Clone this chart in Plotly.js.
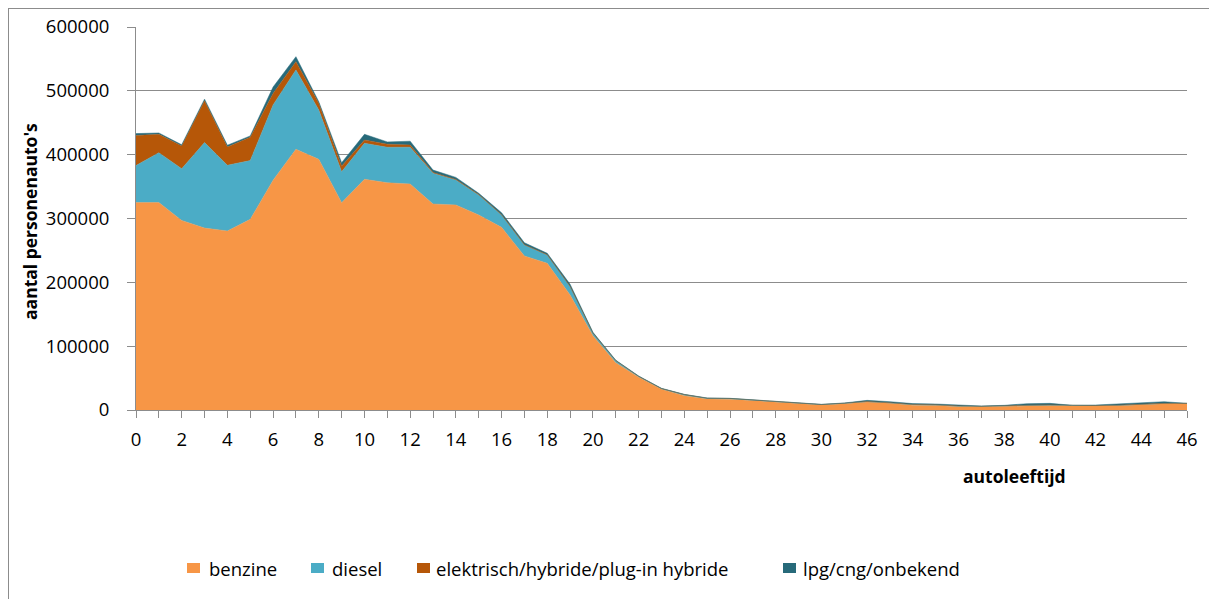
<!DOCTYPE html>
<html>
<head>
<meta charset="utf-8">
<script src="https://cdn.plot.ly/plotly-3.0.1.min.js"></script>
<style>
html,body{margin:0;padding:0;background:#fff;overflow:hidden;}
#frame{position:absolute;left:8px;top:8px;width:1400px;height:800px;border:1px solid #8c8c8c;box-sizing:border-box;}
#chart{position:absolute;left:0;top:0;width:1209px;height:599px;}
</style>
</head>
<body>
<div id="frame"></div>
<div id="chart"></div>
<script>
// autoleeftijd (age of car, years)
const ages = [0,1,2,3,4,5,6,7,8,9,10,11,12,13,14,15,16,17,18,19,20,21,22,23,24,25,26,27,28,29,30,31,32,33,34,35,36,37,38,39,40,41,42,43,44,45,46];

const benzine = [325000,325000,297000,285000,280400,298700,360000,408400,392700,324800,361400,356000,354000,322700,321200,305500,286200,241300,229800,180200,116400,74100,51200,32400,22500,17200,17000,14600,12000,9900,7800,9900,12500,10400,7500,7000,5200,5200,5200,6300,6800,6300,6300,6800,8900,9900,10400];

const diesel = [58000,78000,81000,134000,103000,92000,118000,124300,77300,48600,56400,55600,57600,48000,39000,31300,19300,17200,13000,13000,3800,3100,1400,1000,1500,1200,1000,1000,1200,800,700,600,700,800,1100,1000,1000,500,800,1000,1000,500,600,600,400,400,0];

const elektrisch = [47000,29000,35600,65600,28700,36600,18000,13000,10500,8600,5200,4700,3500,1500,1000,700,500,500,400,400,200,100,100,100,100,100,100,100,100,100,100,100,100,100,100,100,100,100,100,100,100,100,100,100,100,100,0];

const lpg = [3000,2000,1900,2400,2700,2100,10000,7800,2500,5500,8900,3700,6000,3700,3200,2000,3000,3000,2300,3300,1300,700,600,500,400,300,200,400,300,200,300,400,1800,1700,1300,1300,1000,500,1200,2500,2500,400,800,1900,2100,2600,0];

const seriesNames = ["benzine","diesel","elektrisch/hybride/plug-in hybride","lpg/cng/onbekend"];
const seriesValues = [benzine, diesel, elektrisch, lpg];
const seriesColors = ["#F79646","#4BACC6","#B65708","#276A7A"];

const yTickVals = [0,100000,200000,300000,400000,500000,600000];
const yTickText = ["0","100000","200000","300000","400000","500000","600000"];

const FONT = "'Open Sans', 'Noto Sans', sans-serif";

const traces = seriesNames.map((name, i) => ({
  type: "scatter",
  mode: "lines",
  x: ages,
  y: seriesValues[i],
  name: name,
  stackgroup: "one",
  line: {width: 0.5, color: seriesColors[i]},
  fillcolor: seriesColors[i],
  hoverinfo: "x+y+name"
}));

// plot area in pixels
const L = 136, R = 1187, T = 27, B = 410;
const px = v => (v - L) / (R - L);
const py = v => (B - v) / (B - T);

const legendSquares = [187, 311, 417, 783];
const legendTextX = [207, 330, 434, 801];
const legendY = 568;

const shapes = [];
const annotations = [];
seriesNames.forEach((name, i) => {
  shapes.push({
    type: "rect", xref: "paper", yref: "paper",
    x0: px(legendSquares[i]), x1: px(legendSquares[i] + 13),
    y0: py(legendY + 5), y1: py(legendY - 5),
    fillcolor: seriesColors[i], line: {width: 0}
  });
  annotations.push({
    xref: "paper", yref: "paper",
    x: px(legendTextX[i]), y: py(legendY),
    xanchor: "left", yanchor: "middle",
    text: name, showarrow: false,
    font: {family: FONT, size: 18.5, color: "#000"}
  });
});

annotations.push({
  xref: "paper", yref: "paper",
  x: px(1014), y: py(476),
  xanchor: "center", yanchor: "middle",
  text: "<b>autoleeftijd</b>", showarrow: false,
  font: {family: FONT, size: 17.5, color: "#000"}
});
annotations.push({
  xref: "paper", yref: "paper",
  x: px(30), y: py(222),
  xanchor: "center", yanchor: "middle",
  textangle: -90,
  text: "<b>aantal personenauto's</b>", showarrow: false,
  font: {family: FONT, size: 17.5, color: "#000"}
});

const layout = {
  width: 1209, height: 599,
  margin: {l: L, r: 1209 - R, t: T, b: 599 - B, pad: 0},
  paper_bgcolor: "rgba(0,0,0,0)",
  plot_bgcolor: "rgba(0,0,0,0)",
  showlegend: false,
  font: {family: FONT, size: 18.5, color: "#000"},
  xaxis: {
    range: [0, 46],
    tickmode: "linear", tick0: 0, dtick: 2,
    ticks: "outside", ticklen: 7, tickcolor: "#8c8c8c", tickwidth: 1,
    minor: {tickmode: "linear", tick0: 0, dtick: 1, ticks: "outside", ticklen: 7, tickcolor: "#8c8c8c", tickwidth: 1, showgrid: false},
    showgrid: false, zeroline: false,
    showline: true, linecolor: "#8c8c8c", linewidth: 1,
    ticklabelstandoff: 6,
    tickfont: {family: FONT, size: 18.5, color: "#000"},
    fixedrange: true
  },
  yaxis: {
    range: [0, 600000],
    tickmode: "array", tickvals: yTickVals, ticktext: yTickText,
    ticks: "outside", ticklen: 8, tickcolor: "#8c8c8c", tickwidth: 1,
    showgrid: true, gridcolor: "#8c8c8c", gridwidth: 1,
    zeroline: false,
    showline: true, linecolor: "#8c8c8c", linewidth: 1,
    ticklabelstandoff: 14,
    tickfont: {family: FONT, size: 18.5, color: "#000"},
    fixedrange: true
  },
  shapes: shapes,
  annotations: annotations
};

Plotly.newPlot("chart", traces, layout, {displayModeBar: false, staticPlot: true});
</script>
</body>
</html>
